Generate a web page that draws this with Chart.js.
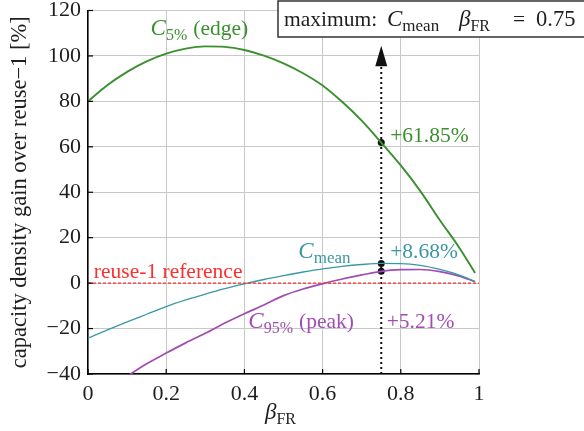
<!DOCTYPE html>
<html>
<head>
<meta charset="utf-8">
<script src="https://cdn.jsdelivr.net/npm/chart.js@4.4.0/dist/chart.umd.min.js"></script>
<style>
  html, body { margin: 0; padding: 0; background: #fff; }
  #wrap { width: 584px; height: 431px; position: relative; }
</style>
</head>
<body>
<div id="wrap"><canvas id="c"></canvas></div>
<script>
// beta_FR sample points and gains (% over reuse-1)
const BETA  = [0, 0.05, 0.1, 0.15, 0.2, 0.25, 0.3, 0.35, 0.4, 0.45, 0.5, 0.55, 0.6, 0.65, 0.7, 0.75, 0.8, 0.85, 0.9, 0.95, 0.99];
const C5    = [80, 87.2, 93, 97.6, 101, 103.2, 104.2, 104, 102.6, 100.1, 96.7, 92.4, 87, 79.8, 71.5, 61.85, 51.8, 40.5, 27.7, 15.5, 4.5];
const CMEAN = [-24.2, -20.6, -17.1, -13.7, -10.3, -7.4, -4.8, -2.4, -0.3, 1.6, 3.3, 4.9, 6.3, 7.4, 8.2, 8.68, 8.6, 7.8, 6.0, 3.5, 0.7];
const C95   = [null, null, -41, -35.5, -30.8, -26.3, -22.1, -17.6, -13.5, -9.6, -5.5, -2.6, -0.3, 1.8, 3.6, 5.21, 5.9, 6.0, 5.1, 3.1, 0.6];

const BEST_BETA = 0.75;
const BEST_VALUES = [61.85, 8.68, 5.21];
const ARROW_TOP = 104.5, ARROW_BASE = 95.5;

const X_TICKS = [0, 0.2, 0.4, 0.6, 0.8, 1];
const Y_TICKS = [-40, -20, 0, 20, 40, 60, 80, 100, 120];

const GREEN  = "#3a8f2e";
const TEAL   = "#3a98a4";
const PURPLE = "#a24cb3";
const RED    = "#ff2e2e";
const INK    = "#1e1e1e";
const SERIF  = "'Liberation Serif', 'DejaVu Serif', serif";

const pts = (ys) => BETA.map((b, i) => ({ x: b, y: ys[i] }));

// draw a run of text pieces (italic / subscript) starting at x, baseline y
function rich(ctx, parts, x, y, color) {
  ctx.save();
  ctx.fillStyle = color;
  ctx.textAlign = "left";
  ctx.textBaseline = "alphabetic";
  for (const p of parts) {
    if (p.at != null) x = p.at;
    ctx.font = `${p.it ? "italic " : ""}${p.size || 21.5}px ${SERIF}`;
    ctx.fillText(p.t, x, y + (p.dy || 0));
    x += ctx.measureText(p.t).width + (p.gap || 0);
  }
  ctx.restore();
}

const overlay = {
  id: "overlay",
  afterDatasetsDraw(chart) {
    const { ctx, scales: { x, y }, chartArea: a } = chart;
    const X = (v) => x.getPixelForValue(v), Y = (v) => y.getPixelForValue(v);
    ctx.save();
    // inward ticks
    ctx.strokeStyle = "#000";
    ctx.lineWidth = 1.2;
    for (const t of X_TICKS) {
      ctx.beginPath(); ctx.moveTo(X(t), a.bottom); ctx.lineTo(X(t), a.bottom - 5); ctx.stroke();
    }
    for (const t of Y_TICKS) {
      ctx.beginPath(); ctx.moveTo(a.left, Y(t)); ctx.lineTo(a.left + 5, Y(t)); ctx.stroke();
    }
    // arrow head on the dotted marker
    ctx.fillStyle = "#111";
    ctx.beginPath();
    ctx.moveTo(X(BEST_BETA), Y(ARROW_TOP));
    ctx.lineTo(X(BEST_BETA) - 6, Y(ARROW_BASE));
    ctx.lineTo(X(BEST_BETA) + 6, Y(ARROW_BASE));
    ctx.closePath();
    ctx.fill();
    ctx.restore();

    rich(ctx, [{ t: "C", it: true, size: 23 }, { t: "5%", size: 16, dy: 5, gap: 6 }, { t: "(edge)" }], X(0.16), Y(109), GREEN);
    rich(ctx, [{ t: "+61.85%" }], X(0.773), Y(62), GREEN);
    rich(ctx, [{ t: "C", it: true, size: 23 }, { t: "mean", size: 17, dy: 5 }], X(0.538), Y(11.2), TEAL);
    rich(ctx, [{ t: "+8.68%" }], X(0.773), Y(11.2), TEAL);
    rich(ctx, [{ t: "reuse-1 reference" }], X(0.015), Y(2.1), RED);
    rich(ctx, [{ t: "C", it: true, size: 23 }, { t: "95%", size: 16, dy: 5, gap: 6 }, { t: "(peak)" }], X(0.41), Y(-19.8), PURPLE);
    rich(ctx, [{ t: "+5.21%" }], X(0.764), Y(-19.8), PURPLE);

    // x axis title
    rich(ctx, [{ t: "β", it: true, size: 23 }, { t: "FR", size: 16, dy: 5 }], 265, 419, INK);

    // "maximum" box at the top right
    ctx.save();
    ctx.fillStyle = "#fff";
    ctx.strokeStyle = "#333";
    ctx.lineWidth = 1.5;
    ctx.fillRect(278, 1, 320, 36);
    ctx.strokeRect(278, 1, 320, 36);
    ctx.restore();
    rich(ctx, [
      { t: "maximum:", at: 284 }, { t: "C", it: true, size: 23, at: 387 }, { t: "mean", size: 17, dy: 5 },
      { t: "β", it: true, size: 23, at: 459 }, { t: "FR", size: 16, dy: 5 }, { t: "=", at: 513 }, { t: "0.75", at: 536, size: 22.5 }
    ], 284, 26, INK);
  }
};

new Chart(document.getElementById("c"), {
  type: "line",
  data: {
    datasets: [
      { data: [{ x: 0, y: 0 }, { x: 1, y: 0 }], borderColor: RED, borderWidth: 1.3, borderDash: [3, 2], pointRadius: 0 },
      { data: pts(C5), borderColor: GREEN, borderWidth: 1.9, pointRadius: 0, cubicInterpolationMode: "monotone" },
      { data: pts(CMEAN), borderColor: TEAL, borderWidth: 1.3, pointRadius: 0, cubicInterpolationMode: "monotone" },
      { data: pts(C95), borderColor: PURPLE, borderWidth: 1.7, pointRadius: 0, cubicInterpolationMode: "monotone" },
      { data: [{ x: BEST_BETA, y: -40 }, { x: BEST_BETA, y: ARROW_BASE }], borderColor: "#111", borderWidth: 2, borderDash: [2, 3], pointRadius: 0 },
      { data: BEST_VALUES.map(v => ({ x: BEST_BETA, y: v })), showLine: false, pointRadius: 3.5, pointBackgroundColor: "#111", pointBorderWidth: 0 }
    ]
  },
  options: {
    responsive: true,
    maintainAspectRatio: false,
    animation: false,
    layout: { padding: { top: 10.5, right: 105, left: 0, bottom: 0 } },
    plugins: { legend: { display: false }, tooltip: { enabled: false } },
    scales: {
      x: {
        type: "linear", min: 0, max: 1,
        afterFit: (s) => { s.height = 57; s.paddingLeft = 0; s.paddingRight = 0; },
        afterBuildTicks: (s) => { s.ticks = X_TICKS.map(v => ({ value: v })); },
        ticks: { color: INK, font: { family: SERIF, size: 22 }, padding: 7, callback: v => String(v) },
        grid: { color: "#c8c8c8", lineWidth: 1, drawTicks: false },
        border: { color: "#000", width: 1.5 }
      },
      y: {
        min: -40, max: 120,
        afterFit: (s) => { s.width = 88; s.paddingTop = 0; s.paddingBottom = 0; },
        afterBuildTicks: (s) => { s.ticks = Y_TICKS.map(v => ({ value: v })); },
        ticks: { color: INK, font: { family: SERIF, size: 22 }, padding: 7, callback: v => String(v).replace("-", "\u2212") },
        grid: { color: "#c8c8c8", lineWidth: 1, drawTicks: false },
        border: { color: "#000", width: 1.5 },
        title: { display: true, text: "capacity density gain over reuse\u22121 [%]", color: INK, font: { family: SERIF, size: 22.5 }, padding: { top: 7, bottom: 0 } }
      }
    }
  },
  plugins: [overlay]
});
</script>
</body>
</html>
